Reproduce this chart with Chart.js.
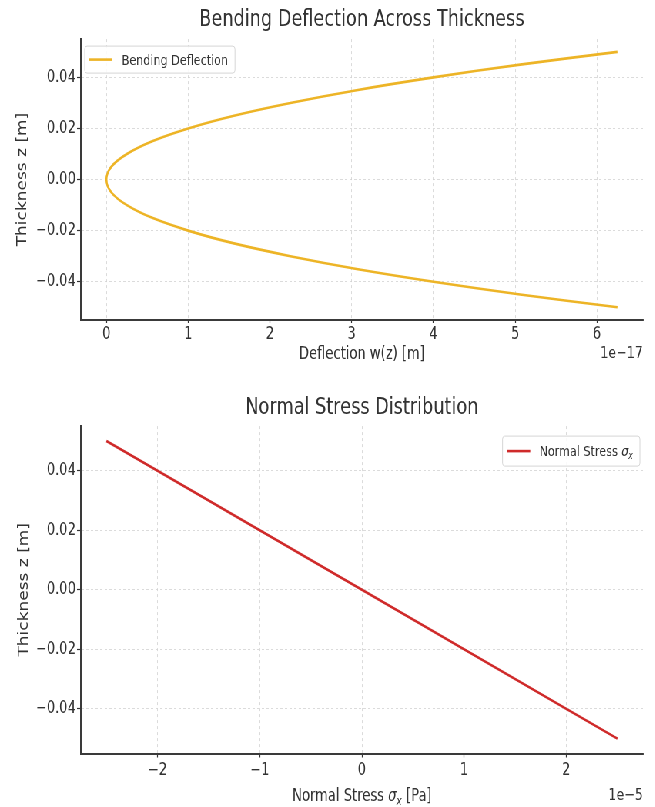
<!DOCTYPE html>
<html>
<head>
<meta charset="utf-8">
<script src="https://cdn.jsdelivr.net/npm/chart.js@4.4.0/dist/chart.umd.min.js"></script>
<style>
  html, body { margin: 0; padding: 0; background: #fff; overflow: hidden; }
  /* the reference figure is squeezed horizontally, so draw wide and squeeze it */
  #page { width: 851px; height: 807px; transform: scaleX(0.77); transform-origin: 0 0; }
  canvas { display: block; }
</style>
</head>
<body>
<div id="page">
  <canvas id="deflectionChart"></canvas>
  <canvas id="stressChart"></canvas>
</div>
<script>
// thickness coordinate z [m]
const thicknessZ = [-0.05, -0.045, -0.04, -0.035, -0.03, -0.025, -0.02, -0.015, -0.01, -0.005, 0,
                    0.005, 0.01, 0.015, 0.02, 0.025, 0.03, 0.035, 0.04, 0.045, 0.05];
// bending deflection w(z), in units of 1e-17 m
const deflection = [6.25, 5.06, 4.00, 3.06, 2.25, 1.56, 1.00, 0.56, 0.25, 0.06, 0.00,
                    0.06, 0.25, 0.56, 1.00, 1.56, 2.25, 3.06, 4.00, 5.06, 6.25];
// normal stress sigma_x, in units of 1e-5 Pa
const stressZ = [0.05, 0.0, -0.05];
const normalStress = [-2.5, 0.0, 2.5];

const zTicks = [-0.04, -0.02, 0, 0.02, 0.04];
const deflectionTicks = [0, 1, 2, 3, 4, 5, 6];
const stressTicks = [-2, -1, 0, 1, 2];
const deflectionOffset = '1e\u221217';
const stressOffset = '1e\u22125';

const FONT = 'DejaVu Sans';
const TEXT = '#333333';
const minus = s => String(s).replace('-', '\u2212');

function fontStr(p) {
  return (p.italic ? 'italic ' : '') + p.size + 'px "' + FONT + '"';
}

// draw text made of several styled pieces (for sigma with subscript x)
function drawRich(ctx, parts, x, y, align) {
  let total = 0;
  parts.forEach(p => { ctx.font = fontStr(p); p.w = ctx.measureText(p.text).width; total += p.w; });
  let cx = align === 'center' ? x - total / 2 : align === 'right' ? x - total : x;
  ctx.textAlign = 'left';
  ctx.textBaseline = 'alphabetic';
  parts.forEach(p => {
    ctx.font = fontStr(p);
    ctx.fillText(p.text, cx, y + (p.dy || 0));
    cx += p.w;
  });
  return total;
}

function measureRich(ctx, parts) {
  let total = 0;
  parts.forEach(p => { ctx.font = fontStr(p); total += ctx.measureText(p.text).width; });
  return total;
}

function roundRect(ctx, x, y, w, h, r) {
  ctx.beginPath();
  ctx.moveTo(x + r, y);
  ctx.arcTo(x + w, y, x + w, y + h, r);
  ctx.arcTo(x + w, y + h, x, y + h, r);
  ctx.arcTo(x, y + h, x, y, r);
  ctx.arcTo(x, y, x + w, y, r);
  ctx.closePath();
}

// matplotlib-like legend box, offset text and rich axis label
const extras = {
  id: 'extras',
  afterDraw(chart, args, opts) {
    const { ctx, chartArea: a } = chart;
    const ds = chart.data.datasets[0];
    ctx.save();

    const parts = opts.legendParts;
    const textW = measureRich(ctx, parts);
    const boxW = 6 + 30 + 12 + textW + 9;
    const boxH = opts.legendHeight;
    const lx = opts.legendAlign === 'left' ? a.left + 5 : a.right - 4 - boxW;
    const ly = a.top + opts.legendTop;
    roundRect(ctx, lx, ly, boxW, boxH, 3);
    ctx.fillStyle = 'rgba(255,255,255,0.85)';
    ctx.fill();
    ctx.strokeStyle = '#d6d6d6';
    ctx.lineWidth = 1;
    ctx.stroke();
    ctx.strokeStyle = ds.borderColor;
    ctx.lineWidth = ds.borderWidth;
    ctx.beginPath();
    ctx.moveTo(lx + 6, ly + boxH / 2);
    ctx.lineTo(lx + 36, ly + boxH / 2);
    ctx.stroke();
    ctx.fillStyle = TEXT;
    drawRich(ctx, parts, lx + 48, ly + boxH / 2 + 5, 'left');

    ctx.font = '16.5px "' + FONT + '"';
    ctx.textAlign = 'right';
    ctx.textBaseline = 'alphabetic';
    ctx.fillText(opts.offsetText, a.right, opts.offsetY);

    if (opts.xTitleParts) {
      drawRich(ctx, opts.xTitleParts, (a.left + a.right) / 2, opts.xTitleY, 'center');
    }
    ctx.restore();
  }
};

function axisX(min, max, ticks, tickLength, padding, title) {
  return {
    type: 'linear', position: 'bottom', min, max,
    afterBuildTicks: s => { s.ticks = ticks.map(v => ({ value: v })); },
    afterFit: s => { s.height = title.axisHeight; },
    ticks: { font: { family: FONT, size: 17 }, color: TEXT, padding, callback: v => minus(v) },
    grid: { color: '#d2d2d2', lineWidth: 0.8, tickColor: '#333', tickLength, tickWidth: 1.2 },
    border: { color: '#3a3a3a', width: 2, dash: [3, 3] },
    title: title.text ? {
      display: true, text: title.text, color: TEXT,
      font: { family: FONT, size: 17 }, padding: { top: 0, bottom: title.padBottom }
    } : { display: false }
  };
}

function axisZ(titlePad) {
  return {
    type: 'linear', position: 'left', min: -0.055, max: 0.055,
    afterBuildTicks: s => { s.ticks = zTicks.map(v => ({ value: v })); },
    afterFit: s => { s.width = 105; },
    ticks: { font: { family: FONT, size: 17 }, color: TEXT, padding: 1.5, callback: v => minus(v.toFixed(2)) },
    grid: { color: '#d2d2d2', lineWidth: 0.8, tickColor: '#333', tickLength: 5, tickWidth: 1.2 },
    border: { color: '#3a3a3a', width: 2, dash: [3, 3] },
    title: {
      display: true, text: 'Thickness z [m]', color: TEXT,
      font: { family: FONT, size: 17 }, padding: { top: titlePad, bottom: 0 }
    }
  };
}

function titleOpts(text, top, bottom) {
  return {
    display: true, text, fullSize: false, color: TEXT,
    font: { family: FONT, size: 23, weight: 'normal' }, padding: { top, bottom }
  };
}

function makeChart(id, width, height, dataset, scales, title, extrasOpts) {
  const canvas = document.getElementById(id);
  canvas.width = width;
  canvas.height = height;
  return new Chart(canvas, {
    type: 'scatter',
    data: { datasets: [dataset] },
    options: {
      responsive: false,
      animation: false,
      layout: { padding: { left: 0, right: 16, top: 0, bottom: 0 } },
      scales,
      plugins: {
        legend: { display: false },
        tooltip: { enabled: false },
        title,
        extras: extrasOpts
      }
    },
    plugins: [extras]
  });
}

makeChart('deflectionChart', 851, 380, {
  label: 'Bending Deflection',
  data: deflection.map((w, i) => ({ x: w, y: thicknessZ[i] })),
  showLine: true, tension: 0.4, pointRadius: 0,
  borderColor: '#edb426', borderWidth: 2.6
}, {
  x: axisX(-0.3125, 6.5625, deflectionTicks, 3, 1,
           { text: 'Deflection w(z) [m]', padBottom: 15, axisHeight: 60 }),
  y: axisZ(19)
}, titleOpts('Bending Deflection Across Thickness', 6, 5.5), {
  legendParts: [{ text: 'Bending Deflection', size: 14.5 }],
  legendAlign: 'left', legendTop: 7, legendHeight: 27,
  offsetText: deflectionOffset, offsetY: 358
});

makeChart('stressChart', 851, 427, {
  label: 'Normal Stress \u03c3x',
  data: normalStress.map((s, i) => ({ x: s, y: stressZ[i] })),
  showLine: true, pointRadius: 0,
  borderColor: '#cf2a2a', borderWidth: 2.6
}, {
  x: axisX(-2.75, 2.75, stressTicks, 4, 2.5, { text: null, axisHeight: 53.5 }),
  y: axisZ(21)
}, titleOpts('Normal Stress Distribution', 14, 4.5), {
  legendParts: [
    { text: 'Normal Stress ', size: 14.5 },
    { text: '\u03c3', size: 14.5, italic: true },
    { text: 'x', size: 10, italic: true, dy: 3 }
  ],
  legendAlign: 'right', legendTop: 10, legendHeight: 30,
  offsetText: stressOffset, offsetY: 420,
  xTitleParts: [
    { text: 'Normal Stress ', size: 17 },
    { text: '\u03c3', size: 17, italic: true },
    { text: 'x', size: 12, italic: true, dy: 4 },
    { text: ' [Pa]', size: 17 }
  ],
  xTitleY: 421
});
</script>
</body>
</html>
